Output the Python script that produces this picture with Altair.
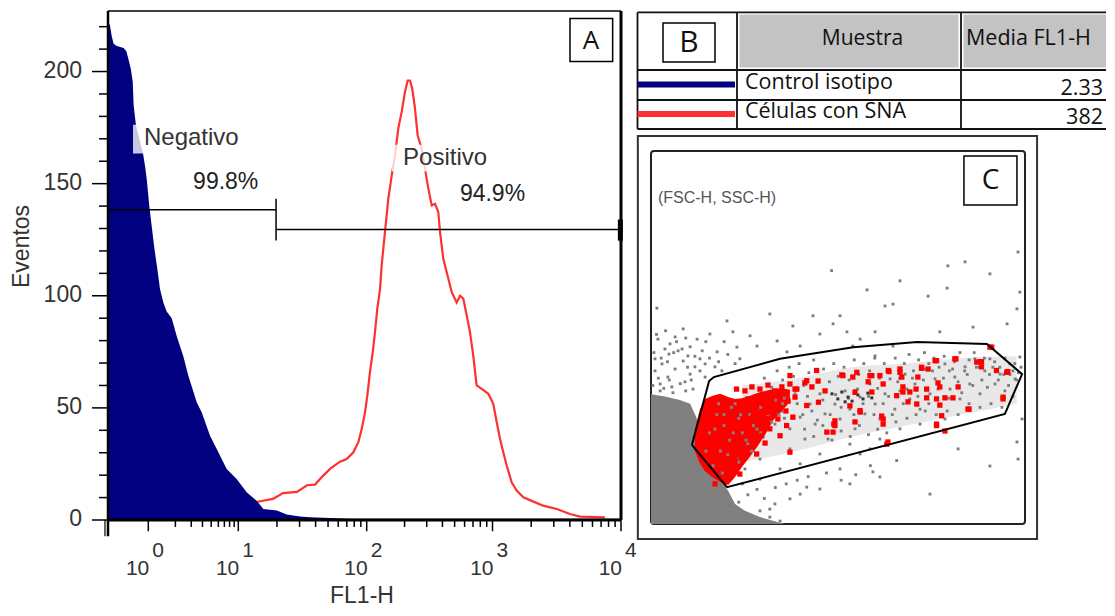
import math
import altair as alt
import pandas as pd

# offset of the chart origin inside the reference picture (page margin)
OX, OY = 8, 9

# ------------------------------------------------------------------
# Panel A : histogram, x = log10(FL1-H), y = Eventos
# ------------------------------------------------------------------
BLUE_LOG = [-0.44, -0.42, -0.40, -0.38, -0.35, -0.27, -0.24, -0.22, -0.19, -0.17,
            -0.16, -0.135, -0.06, -0.036, -0.017, 0.011, 0.038, 0.063, 0.10, 0.13,
            0.167, 0.204, 0.26, 0.316, 0.389, 0.444, 0.538, 0.593, 0.686, 0.76,
            0.871, 0.982, 1.065, 1.143, 1.195, 1.30, 1.377, 1.48, 1.56, 1.87, 4.0]
BLUE_COUNT = [221, 221, 216, 212.5, 211.5, 210.5, 209, 206, 201, 195.5,
              185, 176, 164, 158, 152, 140, 131, 122.5, 112, 103,
              97, 93, 90, 82, 73, 64.4, 52.5, 48, 37.6, 31.7,
              22.8, 18.3, 12.4, 8.6, 4.9, 4.2, 2.5, 1.6, 1.2, 0.6, 0.6]

RED_LOG = [1.130, 1.192, 1.270, 1.348, 1.457, 1.535, 1.597, 1.662, 1.714, 1.792,
           1.844, 1.896, 1.935, 1.961, 1.987, 2.005, 2.026, 2.048, 2.066, 2.084,
           2.106, 2.119, 2.145, 2.172, 2.199, 2.225, 2.251, 2.278, 2.304, 2.326,
           2.344, 2.362, 2.384, 2.405, 2.437, 2.463, 2.490, 2.517, 2.543, 2.569,
           2.583, 2.609, 2.649, 2.676, 2.715, 2.742, 2.768, 2.795, 2.821, 2.847,
           2.874, 2.914, 2.967, 3.006, 3.033, 3.058, 3.084, 3.111, 3.149, 3.188,
           3.240, 3.318, 3.395, 3.500, 3.603, 3.681, 3.875]
RED_COUNT = [7.9, 8.6, 9.4, 12.0, 12.5, 15.5, 15.8, 19.8, 22.8, 26,
             27.2, 30.2, 34.7, 40.6, 48, 55.5, 66, 74.9, 83.8, 94.2,
             103, 113.5, 128.4, 143.3, 153.7, 162.6, 174.6, 182, 190.9, 196,
             196, 192.4, 183.5, 171.6, 165.6, 156.7, 147.8, 140.3, 141, 137.4,
             128.4, 116.5, 107.6, 101.6, 97, 100, 98.7, 91.2, 83.8, 73.3,
             60, 58.5, 56.3, 51.8, 43.6, 36.2, 30.2, 24.2, 16.8, 13.1,
             10.1, 8.2, 6.4, 4.9, 2.7, 1.5, 1.2]

GATE_NAMES = ["Negativo", "Positivo"]
GATE_PCTS = ["99.8%", "94.9%"]
GATE_SPLIT = 1.294          # log10 of the boundary between the two gates
GATE_LEVELS = [138.4, 129.5]

Y_TICKS = list(range(0, 221, 10))
Y_LABELS = [0, 50, 100, 150, 200]
DECADES = [0, 1, 2, 3, 4]

# ------------------------------------------------------------------
# Panel B : table
# ------------------------------------------------------------------
TABLE_HEADERS = ["Muestra", "Media FL1-H"]
SAMPLES = ["Control isotipo", "Células con SNA"]
MEANS = ["2.33", "382"]
SAMPLE_COLORS = ["#000080", "#ff3030"]

# ------------------------------------------------------------------
# Panel C : FSC-H / SSC-H dot plot (channels 0-1023)
# ------------------------------------------------------------------
GATE_FSC = [112, 159, 172, 353, 553, 728, 919, 1015, 968, 208, 112]
GATE_SSC = [217, 392, 403, 453, 485, 499, 494, 411, 302, 101, 217]

GRAY_CORE_FSC = [0, 38, 79, 107, 125, 134, 161, 189, 211, 230, 257, 298, 366]
GRAY_CORE_SSC = [356, 350, 340, 330, 290, 233, 178, 123, 91, 55, 36, 19, 0]

# extent of the scattered (medium density) band of events inside the gate
BAND_FSC = [250, 400, 550, 700, 850, 1000]
BAND_TOP = [380, 400, 430, 440, 455, 460]
BAND_BOTTOM = [170, 200, 240, 270, 300, 330]

RED_CORE_FSC = [120, 134, 148, 167, 189, 211, 230, 249, 271, 293, 312, 335, 358, 380]
RED_CORE_TOP = [261, 315, 343, 351, 357, 348, 343, 345, 352, 360, 365, 370, 372, 368]
RED_CORE_BOTTOM = [200, 165, 145, 129, 115, 107, 129, 156, 185, 215, 245, 285, 310, 335]

GRAY_PTS = [
    (494, 695), (812, 708), (859, 719), (927, 686), (1004, 746), (681, 667), (591, 642),
    (640, 598), (662, 603), (758, 625), (810, 647), (1001, 590), (1009, 636),
    (16, 592), (208, 557), (325, 576), (443, 571), (498, 549), (613, 527), (881, 540),
    (388, 543), (88, 535), (161, 521), (126, 507), (52, 494), (224, 527), (271, 516),
    (345, 502), (536, 527), (572, 507), (49, 466), (181, 472), (243, 453), (290, 488),
    (372, 472), (408, 488), (462, 521), (517, 571), (790, 527), (974, 549), (552, 488),
    (613, 461), (662, 488),
    (11, 420), (30, 439), (46, 403), (66, 425), (88, 447), (107, 411), (25, 384), (57, 376),
    (93, 390), (120, 431), (134, 453), (11, 453), (74, 475), (38, 480), (101, 461),
    (134, 420), (148, 439), (25, 365), (115, 370), (148, 403), (175, 431), (194, 420),
    (107, 486), (19, 507), (66, 513),
    (257, 14), (298, 36), (339, 55), (380, 69), (325, 19), (284, 8), (408, 82), (462, 96),
    (544, 110), (230, 27), (202, 14), (626, 129), (353, 8),
    (672, 174), (840, 206), (763, 82), (927, 159), (325, 41), (426, 101), (607, 143),
    (1001, 225), (1015, 288), (1004, 178),
    (325, 343), (339, 274), (358, 310), (380, 261), (394, 357), (408, 293), (421, 233),
    (435, 329), (449, 274), (462, 357), (476, 302), (484, 233), (503, 329), (517, 288),
    (531, 365), (544, 315), (558, 261), (572, 348), (585, 302), (599, 384), (613, 329),
    (626, 288), (640, 357), (654, 398), (667, 315), (681, 365), (695, 411), (708, 343),
    (722, 384), (736, 315), (749, 425), (763, 357), (777, 398), (790, 329), (804, 439),
    (818, 370), (831, 403), (845, 343), (859, 431), (872, 384), (886, 453), (900, 357),
    (913, 420), (927, 453), (941, 384), (955, 411), (968, 365), (982, 439), (996, 398),
    (1009, 458),
    (544, 219), (572, 192), (626, 233), (681, 261), (736, 274), (804, 288), (599, 206),
    (462, 192), (408, 165), (353, 151), (298, 123), (517, 151), (298, 178), (257, 151),
    (380, 206),
    (350, 320), (365, 290), (372, 345), (400, 330), (415, 300), (428, 350), (440, 310),
    (455, 285), (470, 340), (490, 300), (505, 355), (520, 320), (540, 345), (555, 300),
    (565, 370), (580, 330), (595, 350), (610, 300), (620, 372), (635, 330), (650, 350),
    (660, 300), (675, 390), (690, 330), (700, 370), (715, 400), (730, 350), (745, 395),
    (760, 330), (770, 420), (785, 370), (800, 400), (815, 345), (825, 425), (840, 390),
    (850, 360), (865, 410), (880, 380), (890, 430), (905, 395), (920, 375), (935, 430),
    (950, 395), (965, 410), (978, 380), (990, 420), (1000, 395), (1012, 430),
    (310, 400), (330, 375), (345, 420), (360, 395), (378, 430), (390, 405), (405, 440),
    (418, 380), (432, 415), (445, 450), (458, 395), (472, 425), (488, 390), (500, 440),
    (512, 405), (528, 430), (542, 395), (556, 450), (568, 410), (582, 440), (598, 420),
    (612, 455), (625, 400), (638, 440), (652, 420), (668, 455), (680, 400), (693, 440),
    (706, 465), (718, 420), (732, 450), (748, 470), (760, 440), (774, 455), (788, 430),
    (802, 460), (816, 420), (830, 445), (845, 470), (858, 420), (870, 450), (884, 470),
    (898, 430), (912, 455), (926, 410), (940, 445), (954, 430), (968, 455), (982, 410),
    (995, 440), (1005, 415),
    (420, 260), (445, 240), (470, 270), (495, 230), (520, 255), (545, 240), (570, 270),
    (595, 245), (620, 260), (645, 250), (670, 280), (700, 290), (725, 300), (750, 310),
    (780, 300), (810, 310), (840, 300), (870, 330), (900, 320), (930, 330), (960, 320),
    (990, 350),
    (5, 380), (20, 400), (35, 372), (50, 395), (60, 360), (80, 385), (95, 365), (110, 395),
    (8, 470), (28, 455), (45, 445), (62, 470), (85, 480), (100, 430), (120, 460),
    (140, 475), (160, 455), (185, 445), (210, 465), (230, 440), (15, 520), (40, 530),
    (70, 500), (95, 510), (150, 500), (200, 500), (235, 485),
    (180, 30), (215, 50), (240, 60), (265, 80), (290, 95), (310, 70), (340, 100),
    (370, 110), (400, 120), (430, 130), (480, 140), (520, 120), (560, 135), (600, 160),
    (250, 110), (205, 85), (155, 60), (130, 40), (175, 70),
]
GRAY_OVER_RED = [(180, 300), (200, 270), (215, 230), (240, 290), (250, 250), (265, 220),
                 (220, 320), (160, 250), (190, 200), (235, 180), (270, 300), (290, 260),
                 (150, 200), (175, 260), (200, 300), (225, 250), (245, 300), (260, 230),
                 (280, 270), (300, 320), (320, 300), (340, 340), (360, 330), (210, 190),
                 (240, 170), (170, 160), (195, 140), (275, 200), (300, 250), (330, 280),
                 (350, 300), (365, 345), (185, 330), (230, 330)]
DARK_PTS = [(495, 357), (511, 343), (522, 362), (539, 348), (550, 337), (566, 354),
            (580, 343), (593, 359), (604, 346), (531, 335), (558, 365)]
RED_PTS = [
    (781, 448), (834, 453), (900, 445), (945, 421), (976, 418), (932, 485), (758, 425),
    (740, 427), (681, 425), (651, 418), (626, 407), (604, 407), (594, 390), (552, 403),
    (525, 407), (635, 384), (689, 376), (725, 370), (754, 370), (785, 387), (790, 376),
    (840, 376), (708, 362), (672, 352), (754, 346), (781, 343), (804, 346), (826, 346),
    (703, 335), (790, 326), (870, 315), (963, 348), (631, 296), (544, 324), (572, 307),
    (500, 274), (503, 283), (498, 252), (558, 280), (635, 274), (648, 225), (781, 274),
    (804, 255), (604, 362), (686, 403), (730, 403), (891, 444), (904, 431),
    (453, 421), (522, 409), (563, 416), (599, 407), (649, 421), (681, 416), (740, 430),
    (777, 448), (831, 453), (904, 445), (927, 485), (973, 416), (963, 343), (867, 315),
    (795, 297), (781, 270), (727, 329), (689, 362), (635, 288), (645, 219), (572, 311),
    (558, 361), (503, 270), (481, 252), (458, 334), (426, 393), (394, 370), (380, 407),
    (344, 361), (316, 306), (298, 288), (284, 334), (234, 370), (371, 270), (303, 242),
    (289, 192), (380, 197), (353, 242), (426, 325),
    (257, 365), (276, 376), (298, 370), (320, 381), (339, 365), (358, 376), (380, 384),
    (399, 370), (421, 387), (440, 376), (457, 392), (476, 365), (265, 343), (287, 348),
    (306, 337), (331, 343), (353, 348), (375, 337), (394, 348), (257, 310), (279, 293),
    (304, 274), (325, 261), (347, 288), (369, 310), (388, 293), (265, 261), (284, 239),
    (312, 222), (243, 211), (230, 178), (260, 200), (202, 151), (243, 137), (175, 110),
]

# ------------------------------------------------------------------
# helpers
# ------------------------------------------------------------------
ARIAL = "Liberation Sans"
CALIBRI = "Open Sans"


def rules(df, xs, ys):
    return alt.Chart(df).mark_rule().encode(
        x=alt.X("x:Q", scale=xs, axis=None), x2="x2:Q",
        y=alt.Y("y:Q", scale=ys, axis=None), y2="y2:Q",
        strokeWidth=alt.StrokeWidth("w:Q", scale=None, legend=None),
        color=alt.Color("c:N", scale=None, legend=None),
    )


def texts(df, xs, ys, **kw):
    return alt.Chart(df).mark_text(**kw).encode(
        x=alt.X("x:Q", scale=xs, axis=None),
        y=alt.Y("y:Q", scale=ys, axis=None),
        text="t:N",
    )


def rects(df, xs, ys, **kw):
    return alt.Chart(df).mark_rect(**kw).encode(
        x=alt.X("x:Q", scale=xs, axis=None), x2="x2:Q",
        y=alt.Y("y:Q", scale=ys, axis=None), y2="y2:Q",
    )


# ------------------------------------------------------------------
# Panel A
# ------------------------------------------------------------------
xA = alt.Scale(type="linear", domain=[-0.44, 0, 1, 2, 3, 4],
               range=[108 - OX, 148.3 - OX, 238.3 - OX, 366.7 - OX, 492.5 - OX, 621 - OX],
               nice=False, zero=False)
yA = alt.Scale(type="linear", domain=[0, 227], range=[521 - OY, 12 - OY], nice=False, zero=False)

red_line = alt.Chart(pd.DataFrame({"fl1": RED_LOG, "ev": RED_COUNT})).mark_line(
    color="#ff3030", strokeWidth=2.2
).encode(x=alt.X("fl1:Q", scale=xA, axis=None), y=alt.Y("ev:Q", scale=yA, axis=None))

blue_area = alt.Chart(pd.DataFrame({"fl1": BLUE_LOG, "ev": BLUE_COUNT})).mark_area(
    color="#000080"
).encode(x=alt.X("fl1:Q", scale=xA, axis=None), y=alt.Y("ev:Q", scale=yA, axis=None))

label_bg = rects(pd.DataFrame([
    dict(x=-0.167, x2=1.013, y=163.4, y2=176.3),
    dict(x=2.201, x2=2.996, y=155.4, y2=167.4),
]), xA, yA, color="white", opacity=0.78)

frame_rows = [
    dict(x=-0.44, x2=4, y=227, y2=227, w=1.5, c="black"),
    dict(x=-0.44, x2=-0.44, y=-7.2, y2=227, w=2.5, c="black"),
    dict(x=-0.473, x2=-0.473, y=-7.2, y2=0, w=1.2, c="black"),
    dict(x=4, x2=4, y=0, y2=227, w=3, c="black"),
    dict(x=-0.44, x2=4, y=0, y2=0, w=3, c="black"),
    # gate markers
    dict(x=-0.44, x2=GATE_SPLIT, y=GATE_LEVELS[0], y2=GATE_LEVELS[0], w=1.5, c="black"),
    dict(x=GATE_SPLIT, x2=GATE_SPLIT, y=124.6, y2=143.3, w=1.5, c="black"),
    dict(x=GATE_SPLIT, x2=4, y=GATE_LEVELS[1], y2=GATE_LEVELS[1], w=1.5, c="black"),
    dict(x=3.995, x2=3.995, y=124.6, y2=134.0, w=5, c="black"),
]
for d in DECADES:
    frame_rows.append(dict(x=d, x2=d, y=0, y2=-5.0, w=1.5, c="black"))
    if d < 4:
        for k in range(2, 10):
            v = d + math.log10(k)
            frame_rows.append(dict(x=v, x2=v, y=0, y2=-3.1, w=1.5, c="black"))
for v in Y_TICKS:
    x0 = -0.615 if v in Y_LABELS else -0.538
    frame_rows.append(dict(x=x0, x2=-0.44, y=v, y2=v, w=1.5, c="black"))
frame_a = rules(pd.DataFrame(frame_rows), xA, yA)

ylab = texts(pd.DataFrame({"x": [-0.724] * len(Y_LABELS), "y": Y_LABELS,
                           "t": [str(v) for v in Y_LABELS]}), xA, yA,
             align="right", baseline="middle", font=ARIAL, fontSize=23, color="#333333", dy=-1)
xlab_base = texts(pd.DataFrame({"x": DECADES, "y": [-21.9] * 5, "t": ["10"] * 5}), xA, yA,
                  align="right", baseline="middle", font=ARIAL, fontSize=21, color="#333333", dx=1)
xlab_exp = texts(pd.DataFrame({"x": DECADES, "y": [-13.8] * 5, "t": [str(d) for d in DECADES]}),
                 xA, yA, align="left", baseline="middle", font=ARIAL, fontSize=21,
                 color="#333333", dx=4)
ytitle = texts(pd.DataFrame({"x": [-1.38], "y": [122], "t": ["Eventos"]}), xA, yA,
               align="center", baseline="middle", angle=270, font=ARIAL, fontSize=23,
               color="#333333")
xtitle = texts(pd.DataFrame({"x": [1.963], "y": [-37.0], "t": ["FL1-H"]}), xA, yA,
               align="center", baseline="alphabetic", font=ARIAL, fontSize=23, color="#333333")
gate_names = texts(pd.DataFrame({"x": [-0.047, 2.289], "y": [170.5, 161.6], "t": GATE_NAMES}),
                   xA, yA, align="left", baseline="middle", font=ARIAL, fontSize=24,
                   color="#333333")
gate_pcts = texts(pd.DataFrame({"x": [0.86, 3.0], "y": [150.9, 145.5], "t": GATE_PCTS}),
                  xA, yA, align="center", baseline="middle", font=ARIAL, fontSize=23,
                  color="#222222")
a_box = rects(pd.DataFrame([dict(x=3.603, x2=3.935, y=204.5, y2=223.7)]), xA, yA,
              fill="white", stroke="black", strokeWidth=1.5)
a_txt = texts(pd.DataFrame({"x": [3.767], "y": [213.8], "t": ["A"]}), xA, yA,
              align="center", baseline="middle", font=CALIBRI, fontSize=26, color="#111111")

panel_a = alt.layer(red_line, blue_area, label_bg, frame_a, ylab, xlab_base, xlab_exp,
                    ytitle, xtitle, gate_names, gate_pcts, a_box, a_txt)

# ------------------------------------------------------------------
# Panel B (table)
# ------------------------------------------------------------------
TX0, TX1 = 637.5, 1106.0
TY0, TY1 = 13.3, 130.0
xB = alt.Scale(domain=[0, 1], range=[TX0 - OX, TX1 - OX], nice=False, zero=False)
yB = alt.Scale(domain=[0, 1], range=[TY0 - OY, TY1 - OY], nice=False, zero=False)


def fx(p):
    return (p - TX0) / (TX1 - TX0)


def fy(p):
    return (p - TY0) / (TY1 - TY0)


head_cells = rects(pd.DataFrame([
    dict(x=fx(739.5), x2=fx(958.5), y=fy(15.5), y2=fy(68.5)),
    dict(x=fx(963.5), x2=1.0, y=fy(15.5), y2=fy(68.5)),
]), xB, yB, color="#c3c3c3")

grid_rows = []
for yy in [0.0, fy(71), fy(101), 1.0]:
    grid_rows.append(dict(x=0, x2=1, y=yy, y2=yy, w=1.8, c="#111111"))
for xx in [0.0, fx(737), fx(961)]:
    grid_rows.append(dict(x=xx, x2=xx, y=0, y2=1, w=1.8, c="#111111"))
for yy, col in zip([fy(85.5), fy(115)], SAMPLE_COLORS):
    grid_rows.append(dict(x=0, x2=fx(735), y=yy, y2=yy, w=6, c=col))
grid_b = rules(pd.DataFrame(grid_rows), xB, yB)

b_box = rects(pd.DataFrame([dict(x=fx(663), x2=fx(715), y=fy(24), y2=fy(63))]), xB, yB,
              fill="white", stroke="black", strokeWidth=1.5)
b_txt = texts(pd.DataFrame({"x": [fx(689)], "y": [fy(44)], "t": ["B"]}), xB, yB,
              align="center", baseline="middle", font=CALIBRI, fontSize=30, color="#111111")
h1 = texts(pd.DataFrame({"x": [fx(862.5)], "y": [fy(39.5)], "t": [TABLE_HEADERS[0]]}), xB, yB,
           align="center", baseline="middle", font=CALIBRI, fontSize=21, color="#111111")
h2 = texts(pd.DataFrame({"x": [fx(966)], "y": [fy(40)], "t": [TABLE_HEADERS[1]]}), xB, yB,
           align="left", baseline="middle", font=CALIBRI, fontSize=21.5, color="#111111")
samp = texts(pd.DataFrame({"x": [fx(745)] * 2, "y": [fy(84), fy(113)], "t": SAMPLES}), xB, yB,
             align="left", baseline="middle", font=CALIBRI, fontSize=21.5, color="#111111")
means = texts(pd.DataFrame({"x": [fx(1103)] * 2, "y": [fy(89.5), fy(118.5)], "t": MEANS}),
              xB, yB, align="right", baseline="middle", font=CALIBRI, fontSize=21.5,
              color="#111111")

panel_b = alt.layer(head_cells, grid_b, b_box, b_txt, h1, h2, samp, means)

# ------------------------------------------------------------------
# Panel C (dot plot)
# ------------------------------------------------------------------
xC = alt.Scale(domain=[0, 1023], range=[651 - OX, 1025 - OX], nice=False, zero=False)
yC = alt.Scale(domain=[0, 1023], range=[525 - OY, 152 - OY], nice=False, zero=False)

outer_box = rects(pd.DataFrame([dict(x=-36, x2=1056, y=-41, y2=1064)]), xC, yC,
                  fill="white", stroke="#333333", strokeWidth=2)
inner_box = rects(pd.DataFrame([dict(x=0, x2=1023, y=0, y2=1023)]), xC, yC,
                  fill="white", stroke="#222222", strokeWidth=2, cornerRadius=3)

band = alt.Chart(pd.DataFrame({"fsc": BAND_FSC, "top": BAND_TOP, "bot": BAND_BOTTOM})).mark_area(
    color="#808080", opacity=0.18, interpolate="monotone").encode(
    x=alt.X("fsc:Q", scale=xC, axis=None), y=alt.Y("top:Q", scale=yC, axis=None), y2="bot:Q")

gray_core = alt.Chart(pd.DataFrame({"fsc": GRAY_CORE_FSC, "ssc": GRAY_CORE_SSC,
                                    "base": [0] * len(GRAY_CORE_FSC)})).mark_area(
    color="#808080").encode(x=alt.X("fsc:Q", scale=xC, axis=None),
                            y=alt.Y("ssc:Q", scale=yC, axis=None), y2="base:Q")


def dots(pts, color, size):
    df = pd.DataFrame(pts, columns=["fsc", "ssc"])
    return alt.Chart(df).mark_square(color=color, size=size, opacity=1).encode(
        x=alt.X("fsc:Q", scale=xC, axis=None), y=alt.Y("ssc:Q", scale=yC, axis=None))


gray_dots = dots(GRAY_PTS, "#7c7c7c", 8)
dark_dots = dots(DARK_PTS, "#333333", 9)
red_core = alt.Chart(pd.DataFrame({"fsc": RED_CORE_FSC, "top": RED_CORE_TOP,
                                   "bot": RED_CORE_BOTTOM})).mark_area(color="#ff0000").encode(
    x=alt.X("fsc:Q", scale=xC, axis=None), y=alt.Y("top:Q", scale=yC, axis=None), y2="bot:Q")
gray_over = dots(GRAY_OVER_RED, "#808080", 9)
red_dots = dots(RED_PTS, "#ff0000", 28)

gate_poly = alt.Chart(pd.DataFrame({"fsc": GATE_FSC, "ssc": GATE_SSC,
                                    "i": list(range(len(GATE_FSC)))})).mark_line(
    color="black", strokeWidth=2).encode(
    x=alt.X("fsc:Q", scale=xC, axis=None), y=alt.Y("ssc:Q", scale=yC, axis=None),
    order="i:Q")

c_box = rects(pd.DataFrame([dict(x=856, x2=1001, y=875, y2=1009)]), xC, yC,
              fill="white", stroke="black", strokeWidth=1.5)
c_txt = texts(pd.DataFrame({"x": [929], "y": [942], "t": ["C"]}), xC, yC,
              align="center", baseline="middle", font=CALIBRI, fontSize=28, color="#111111")
fsc_txt = texts(pd.DataFrame({"x": [19], "y": [894], "t": ["(FSC-H, SSC-H)"]}), xC, yC,
                align="left", baseline="middle", font=ARIAL, fontSize=16, color="#555555")

panel_c = alt.layer(outer_box, inner_box, band, gray_core, gray_dots, dark_dots, red_core,
                    gray_over, red_dots, gate_poly, c_box, c_txt, fsc_txt)

chart = alt.layer(panel_a, panel_b, panel_c).resolve_scale(
    x="independent", y="independent"
).properties(
    width=1099, height=600, padding=0, autosize=alt.AutoSizeParams(type="none")
).configure_view(stroke=None)

chart.save("out.html", embed_options={"renderer": "svg", "actions": False})
